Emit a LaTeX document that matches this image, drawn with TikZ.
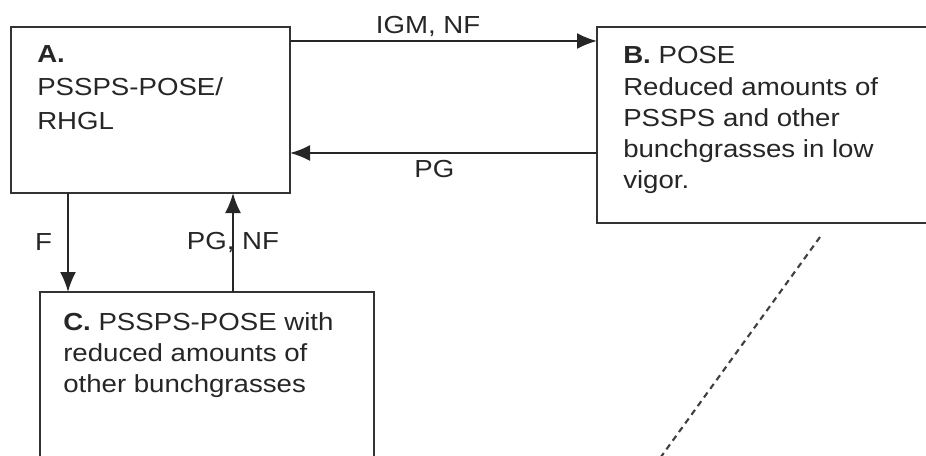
\documentclass[tikz,border=0pt]{standalone}
\usepackage{fontspec}
\setmainfont{Liberation Sans}[FakeStretch=1.12]
\usetikzlibrary{arrows.meta}
\begin{document}
\begin{tikzpicture}[x=.75pt,y=-.75pt,
        box/.style={draw=black!80,line width=1.5pt,inner sep=0pt,outer sep=0pt,anchor=north west},
        txt/.style={anchor=north west,inner sep=0pt,align=left,text=black!85,font=\fontsize{18.5}{23.4}\selectfont},
        arr/.style={draw=black!85,line width=1.5pt,-{Latex[length=15pt,width=12pt]}},
        lbl/.style={text=black!85,font=\fontsize{18.5}{22}\selectfont}]
    \clip (0,0) rectangle (926,455);
    \node[box,minimum width=209.25pt,minimum height=124.5pt] (a) at (11,27) {};
    \node[box,minimum width=285pt,minimum height=147pt] (b) at (597,27) {};
    \node[box,minimum width=250.5pt,minimum height=165pt] (c) at (40,292) {};

    \node[txt,font=\fontsize{18.5}{24.8}\selectfont] (atxt) at ([xshift=19.5pt,yshift=-14pt]a.north west)
        {\textbf{A.}\\PSSPS-POSE/\\RHGL};
    \node[txt] (btxt) at ([xshift=19.5pt,yshift=-14.5pt]b.north west)
        {\textbf{B.} POSE\\Reduced amounts of\\PSSPS and other\\bunchgrasses in low\\vigor.};
    \node[txt] (ctxt) at ([xshift=17.25pt,yshift=-15pt]c.north west)
        {\textbf{C.} PSSPS-POSE with\\reduced amounts of\\other bunchgrasses};

    \draw[arr] ([yshift=-10.5pt]a.north east) -- ([yshift=-10.5pt]b.north west)
        node[lbl,pos=.45,above=-1pt] {IGM, NF};
    \draw[arr] ([yshift=-94.5pt]b.north west) -- ([yshift=-94.5pt]b.north west -| a.east)
        node[lbl,pos=.53,below=1pt] {PG};
    \draw[arr] ([xshift=42.75pt]a.south west) -- ([xshift=42.75pt]a.south west |- c.north)
        node[lbl,midway,left=8pt] {F};
    \draw[arr] ([xshift=166.5pt]a.south west |- c.north) -- ([xshift=166.5pt]a.south west)
        node[lbl,midway] {PG, NF};

    \coordinate (dtop) at (820,237);
    \coordinate (dbot) at (658,461);
    \draw[black!75,line width=1.6pt,dash pattern=on 4.5pt off 3.5pt] (dtop) -- (dbot);
\end{tikzpicture}
\end{document}
